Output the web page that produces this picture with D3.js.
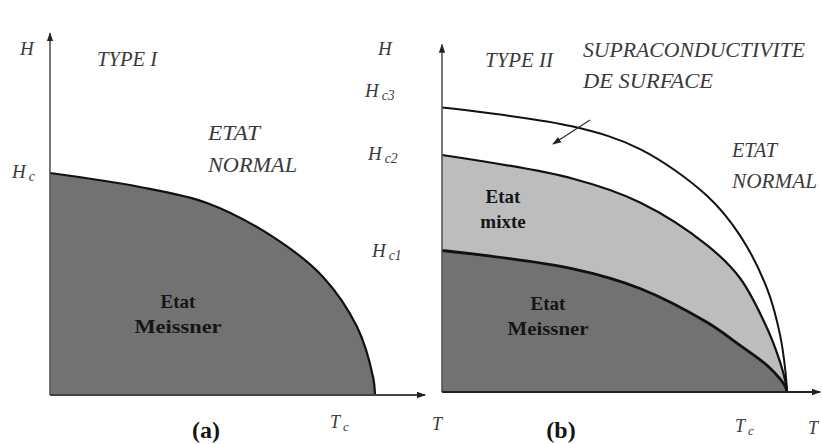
<!DOCTYPE html>
<html><head><meta charset="utf-8">
<script src="https://cdn.jsdelivr.net/npm/d3@7"></script>
<style>
body{margin:0;background:#fff;}
svg text{font-family:"Liberation Serif","DejaVu Serif",serif;fill:#3a3a3a;}
.it{font-style:italic;}
.bd{font-weight:bold;fill:#151515;}
</style></head>
<body><svg id="c" width="822" height="444"></svg>
<script>
// Panel (a): critical field of a type I superconductor, T in units of Tc, H in units of Hc
const tA  = [0, 0.277, 0.483, 0.686, 0.84, 0.945, 0.994, 1];
const hcA = [1, 0.937, 0.865, 0.712, 0.532, 0.306, 0.081, 0];
// Panel (b): type II, H in units of Hc2
const tB   = [0, 0.38, 0.574, 0.768, 0.864, 0.942, 0.98, 0.996, 1];
const hc3B = [1.20, 1.12, 1.025, 0.828, 0.66, 0.437, 0.24, 0.08, 0];
const hc2B = [1.00, 0.90, 0.80, 0.62, 0.48, 0.27, 0.126, 0.04, 0];
const hc1B = [0.597, 0.52, 0.437, 0.294, 0.197, 0.113, 0.055, 0.02, 0];

const svg = d3.select("#c");
const defs = svg.append("defs");
defs.append("marker").attr("id","ah").attr("viewBox","0 0 10 10").attr("refX",9).attr("refY",5)
  .attr("markerWidth",9).attr("markerHeight",9).attr("markerUnits","userSpaceOnUse").attr("orient","auto")
  .append("path").attr("d","M0,1.5L10,5L0,8.5Z").attr("fill","#222");

const DARK="#727272", LIGHT="#bdbdbd";

// scales
const xA = d3.scaleLinear().domain([0,1]).range([50,375]);
const yA = d3.scaleLinear().domain([0,1]).range([395,173]);
const xB = d3.scaleLinear().domain([0,1]).range([442,787]);
const yB = d3.scaleLinear().domain([0,1]).range([392,155]);

const C = d3.curveCatmullRom.alpha(0.5);
const ptsA = tA.map((t,i)=>[t,hcA[i]]);
const area = (x,y)=>d3.area().x(d=>x(d[0])).y0(y(0)).y1(d=>y(d[1])).curve(C);
const line = (x,y)=>d3.line().x(d=>x(d[0])).y(d=>y(d[1])).curve(C);

// ---- Panel (a)
svg.append("path").datum(ptsA).attr("d",area(xA,yA)).attr("fill",DARK);
svg.append("path").datum(ptsA).attr("d",line(xA,yA)).attr("fill","none").attr("stroke","#111").attr("stroke-width",2.2);
svg.append("line").attr("x1",xA(0)).attr("y1",yA(0)).attr("x2",xA(0)).attr("y2",yA(1.63))
  .attr("stroke","#555").attr("stroke-width",1.6).attr("marker-end","url(#ah)");
svg.append("line").attr("x1",xA(0)).attr("y1",yA(0)).attr("x2",xA(1.154)).attr("y2",yA(0))
  .attr("stroke","#444").attr("stroke-width",1.8).attr("marker-end","url(#ah)");

// ---- Panel (b)
const p3 = tB.map((t,i)=>[t,hc3B[i]]), p2 = tB.map((t,i)=>[t,hc2B[i]]), p1 = tB.map((t,i)=>[t,hc1B[i]]);
svg.append("path").datum(p2).attr("d",area(xB,yB)).attr("fill",LIGHT);
svg.append("path").datum(p1).attr("d",area(xB,yB)).attr("fill",DARK);
svg.append("path").datum(p3).attr("d",line(xB,yB)).attr("fill","none").attr("stroke","#111").attr("stroke-width",2);
svg.append("path").datum(p2).attr("d",line(xB,yB)).attr("fill","none").attr("stroke","#111").attr("stroke-width",2.2);
svg.append("path").datum(p1).attr("d",line(xB,yB)).attr("fill","none").attr("stroke","#111").attr("stroke-width",2.8);
svg.append("line").attr("x1",xB(0)).attr("y1",yB(0)).attr("x2",xB(0)).attr("y2",yB(1.466))
  .attr("stroke","#555").attr("stroke-width",1.6).attr("marker-end","url(#ah)");
svg.append("line").attr("x1",xB(0)).attr("y1",yB(0)).attr("x2",xB(1.096)).attr("y2",yB(0))
  .attr("stroke","#222").attr("stroke-width",2).attr("marker-end","url(#ah)");
// pointer arrow to surface superconductivity region
svg.append("line").attr("x1",590).attr("y1",120).attr("x2",553).attr("y2",144)
  .attr("stroke","#333").attr("stroke-width",1.4).attr("marker-end","url(#ah)");

// ---- Text
function txt(x,y,s,cls,size,len,anchor){
  const t = svg.append("text").attr("x",x).attr("y",y).attr("class",cls).style("font-size",size+"px").text(s);
  if(anchor) t.attr("text-anchor",anchor);
  if(len) t.attr("textLength",len).attr("lengthAdjust","spacingAndGlyphs");
  return t;
}
function sub(x,y,main,s,size){
  const t = svg.append("text").attr("x",x).attr("y",y).attr("class","it").style("font-size",size+"px");
  t.append("tspan").text(main);
  t.append("tspan").attr("dx",3).attr("dy",3).style("font-size",(size*0.72)+"px").text(s);
}
// panel a
txt(20,55,"H","it",19);
txt(97,66,"TYPE I","it",20,60);
txt(208,140,"ETAT","it",20,52);
txt(208,172,"NORMAL","it",20,89);
sub(12,178,"H","c",19);
txt(178,308,"Etat","bd",19,null,"middle");
txt(178,333,"Meissner","bd",19,87,"middle");
txt(206,438,"(a)","bd",24,null,"middle");
sub(330,428,"T","c",18);
// shared T label between the panels
txt(432,430,"T","it",18);
// panel b
txt(378,55,"H","it",19);
txt(485,67,"TYPE II","it",20,68);
txt(583,57,"SUPRACONDUCTIVITE","it",20,222);
txt(583,88,"DE SURFACE","it",20,130);
sub(365,97,"H","c3",19);
sub(368,160,"H","c2",19);
sub(372,257,"H","c1",19);
txt(732,157,"ETAT","it",20,45);
txt(732,188,"NORMAL","it",20,85);
txt(503,203,"Etat","bd",19,null,"middle");
txt(503,228,"mixte","bd",19,null,"middle");
txt(548,310,"Etat","bd",19,null,"middle");
txt(548,335,"Meissner","bd",19,81,"middle");
txt(561,438,"(b)","bd",24,null,"middle");
sub(735,432,"T","c",18);
txt(808,434,"T","it",18);
</script></body></html>
